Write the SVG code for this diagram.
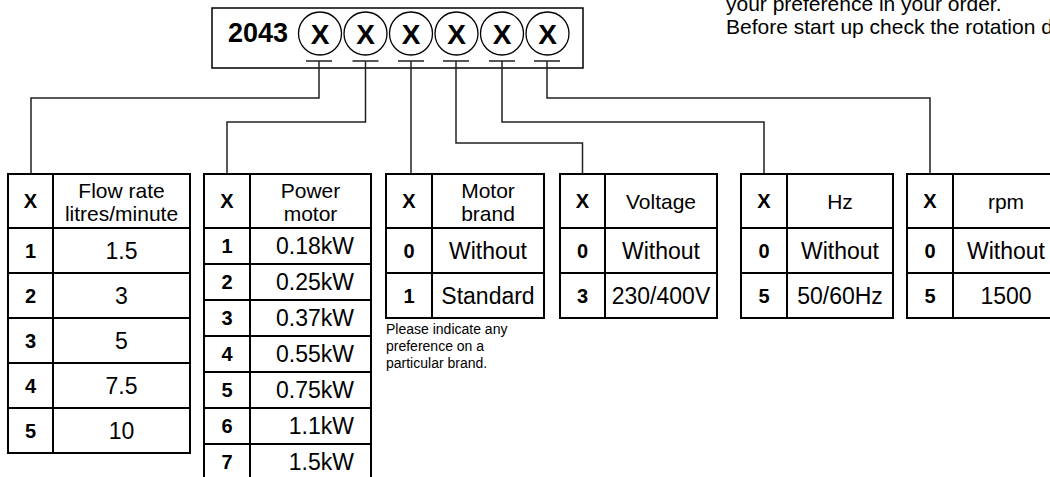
<svg xmlns="http://www.w3.org/2000/svg" width="1050" height="477" viewBox="0 0 1050 477">
<style>
  text { font-family: "Liberation Sans", Arial, sans-serif; fill: #000; }
  .cell { fill: #fff; stroke: #000; stroke-width: 2; }
  .grid { stroke: #000; stroke-width: 2; fill: none; }
  .conn { stroke: #222; stroke-width: 1.5; fill: none; }
  .hd { font-size: 21px; text-anchor: middle; }
  .val { font-size: 23px; text-anchor: middle; }
  .valr { font-size: 23px; text-anchor: end; }
  .key { font-size: 20px; font-weight: bold; text-anchor: middle; }
  .big { font-size: 28px; font-weight: bold; text-anchor: middle; }
  .note { font-size: 14px; }
  .top { font-size: 21px; }
  .circ { fill: #fff; stroke: #000; stroke-width: 1.3; }
</style>

<g id="top-note">
  <text class="top" x="726" y="11">your preference in your order.</text>
  <text class="top" x="726" y="34">Before start up check the rotation direction.</text>
</g>

<g id="code-box">
  <rect x="212" y="8" width="371" height="60" fill="#fff" stroke="#000" stroke-width="1.5"/>
  <text x="228" y="42" font-size="27" font-weight="bold">2043</text>
  <circle class="circ" cx="320" cy="33.5" r="21.5"/>
  <circle class="circ" cx="365.5" cy="33.5" r="21.5"/>
  <circle class="circ" cx="411" cy="33.5" r="21.5"/>
  <circle class="circ" cx="456.5" cy="33.5" r="21.5"/>
  <circle class="circ" cx="502" cy="33.5" r="21.5"/>
  <circle class="circ" cx="547.5" cy="33.5" r="21.5"/>
  <text class="big" x="320" y="43.5">X</text>
  <text class="big" x="365.5" y="43.5">X</text>
  <text class="big" x="411" y="43.5">X</text>
  <text class="big" x="456.5" y="43.5">X</text>
  <text class="big" x="502" y="43.5">X</text>
  <text class="big" x="547.5" y="43.5">X</text>
</g>

<g id="connectors">
  <path class="conn" d="M306,61 H332 M352.5,61 H378.5 M398,61 H424 M443,61 H469 M489,61 H515 M534,61 H560"/>
  <path class="conn" d="M319,61 V98 H31 V174"/>
  <path class="conn" d="M365.5,61 V122 H227 V174"/>
  <path class="conn" d="M411,61 V174"/>
  <path class="conn" d="M456,61 V143 H582.5 V174"/>
  <path class="conn" d="M502,61 V122 H764 V174"/>
  <path class="conn" d="M547,61 V98 H930 V174"/>
</g>

<g id="table-flow">
  <rect class="cell" x="8" y="174" width="182" height="279"/>
  <path class="grid" d="M53,174 V453 M8,228 H190 M8,273 H190 M8,318 H190 M8,363 H190 M8,408 H190"/>
  <text class="key" x="30.5" y="208">X</text>
  <text class="hd" x="121.5" y="198">Flow rate</text>
  <text class="hd" x="121.5" y="221">litres/minute</text>
  <text class="key" x="30.5" y="257.5">1</text><text class="val" x="121.5" y="258.5">1.5</text>
  <text class="key" x="30.5" y="302.5">2</text><text class="val" x="121.5" y="303.5">3</text>
  <text class="key" x="30.5" y="347.5">3</text><text class="val" x="121.5" y="348.5">5</text>
  <text class="key" x="30.5" y="392.5">4</text><text class="val" x="121.5" y="393.5">7.5</text>
  <text class="key" x="30.5" y="437.5">5</text><text class="val" x="121.5" y="438.5">10</text>
</g>

<g id="table-power">
  <rect class="cell" x="204" y="174" width="167" height="306"/>
  <path class="grid" d="M250,174 V480 M204,228 H371 M204,264 H371 M204,300 H371 M204,336 H371 M204,372 H371 M204,408 H371 M204,444 H371"/>
  <text class="key" x="227" y="208">X</text>
  <text class="hd" x="310.5" y="198">Power</text>
  <text class="hd" x="310.5" y="221">motor</text>
  <text class="key" x="227" y="253">1</text><text class="valr" x="354" y="254">0.18kW</text>
  <text class="key" x="227" y="289">2</text><text class="valr" x="354" y="290">0.25kW</text>
  <text class="key" x="227" y="325">3</text><text class="valr" x="354" y="326">0.37kW</text>
  <text class="key" x="227" y="361">4</text><text class="valr" x="354" y="362">0.55kW</text>
  <text class="key" x="227" y="397">5</text><text class="valr" x="354" y="398">0.75kW</text>
  <text class="key" x="227" y="433">6</text><text class="valr" x="354" y="434">1.1kW</text>
  <text class="key" x="227" y="469">7</text><text class="valr" x="354" y="470">1.5kW</text>
</g>

<g id="table-brand">
  <rect class="cell" x="386" y="174" width="158" height="144"/>
  <path class="grid" d="M432,174 V318 M386,228 H544 M386,273 H544"/>
  <text class="key" x="409" y="208">X</text>
  <text class="hd" x="488" y="198">Motor</text>
  <text class="hd" x="488" y="221">brand</text>
  <text class="key" x="409" y="257.5">0</text><text class="val" x="488" y="258.5">Without</text>
  <text class="key" x="409" y="302.5">1</text><text class="val" x="488" y="303.5">Standard</text>
  <text class="note" x="386" y="334">Please indicate any</text>
  <text class="note" x="386" y="351">preference on a</text>
  <text class="note" x="386" y="368">particular brand.</text>
</g>

<g id="table-voltage">
  <rect class="cell" x="560" y="174" width="157" height="144"/>
  <path class="grid" d="M605,174 V318 M560,228 H717 M560,273 H717"/>
  <text class="key" x="582.5" y="208">X</text>
  <text class="hd" x="661" y="208.5">Voltage</text>
  <text class="key" x="582.5" y="257.5">0</text><text class="val" x="661" y="258.5">Without</text>
  <text class="key" x="582.5" y="302.5">3</text><text class="val" x="661" y="303.5">230/400V</text>
</g>

<g id="table-hz">
  <rect class="cell" x="741" y="174" width="152" height="144"/>
  <path class="grid" d="M787,174 V318 M741,228 H893 M741,273 H893"/>
  <text class="key" x="764" y="208">X</text>
  <text class="hd" x="840" y="208.5">Hz</text>
  <text class="key" x="764" y="257.5">0</text><text class="val" x="840" y="258.5">Without</text>
  <text class="key" x="764" y="302.5">5</text><text class="val" x="840" y="303.5">50/60Hz</text>
</g>

<g id="table-rpm">
  <rect class="cell" x="907" y="174" width="152" height="144"/>
  <path class="grid" d="M953,174 V318 M907,228 H1059 M907,273 H1059"/>
  <text class="key" x="930" y="208">X</text>
  <text class="hd" x="1006" y="208.5">rpm</text>
  <text class="key" x="930" y="257.5">0</text><text class="val" x="1006" y="258.5">Without</text>
  <text class="key" x="930" y="302.5">5</text><text class="val" x="1006" y="303.5">1500</text>
</g>
</svg>
